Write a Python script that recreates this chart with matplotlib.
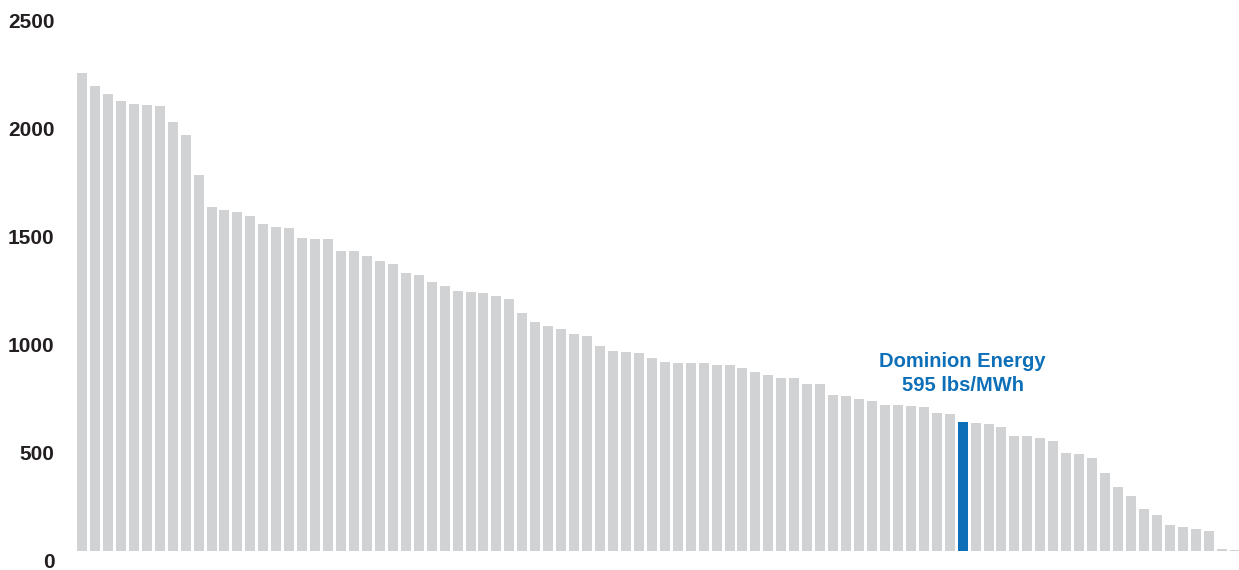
import matplotlib.pyplot as plt
from matplotlib.transforms import ScaledTranslation

# CO2 emission rates (lbs/MWh), sorted high to low; one bar per utility
rates = [
    2213, 2153, 2116, 2083, 2069, 2065, 2060, 1986, 1926, 1741,
    1593, 1579, 1569, 1551, 1514, 1500, 1495, 1449, 1444, 1444,
    1389, 1389, 1366, 1343, 1329, 1287, 1278, 1245, 1227, 1204,
    1199, 1194, 1181, 1167, 1102, 1060, 1042, 1028, 1005, 995,
    949, 926, 921, 917, 894, 875, 870, 870, 870, 861,
    861, 847, 829, 815, 801, 801, 773, 773, 722, 718,
    704, 694, 676, 676, 671, 667, 639, 634, 595, 593,
    588, 574, 532, 532, 523, 509, 454, 449, 431, 361,
    296, 255, 194, 167, 120, 111, 102, 93, 9, 5,
]
highlight_idx = 68
highlight_label = "Dominion Energy\n595 lbs/MWh"
yticks = [0, 500, 1000, 1500, 2000, 2500]

grey = "#d1d2d4"
blue = "#0c6fb8"
dark = "#231f20"

plt.rcParams['font.family'] = ['Liberation Sans', 'DejaVu Sans']

fig = plt.figure(figsize=(12.39, 5.70), dpi=100)
ax = fig.add_axes([60 / 1239, 19 / 570, 1179 / 1239, 540 / 570])

x = list(range(len(rates)))
colors = [blue if i == highlight_idx else grey for i in x]
ax.bar(x, rates, width=0.772, color=colors, linewidth=0)

ax.set_xlim(-1.70, 89.34)
ax.set_ylim(0, 2500)
ax.set_xticks([])
ax.set_yticks(yticks)
ax.set_yticklabels([str(t) for t in yticks], fontsize=15, fontweight='bold', color=dark)
ax.tick_params(axis='y', length=0, pad=4)
for lab in ax.get_yticklabels():
    lab.set_transform(lab.get_transform() + ScaledTranslation(0, -0.09, fig.dpi_scale_trans))
for s in ax.spines.values():
    s.set_visible(False)

ax.annotate(highlight_label, xy=(highlight_idx, rates[highlight_idx]),
            xytext=(0, 35), textcoords='offset points',
            ha='center', va='center', multialignment='center',
            fontsize=14.5, fontweight='bold', color=blue, linespacing=1.35)

fig.savefig("out.png", dpi=100)
